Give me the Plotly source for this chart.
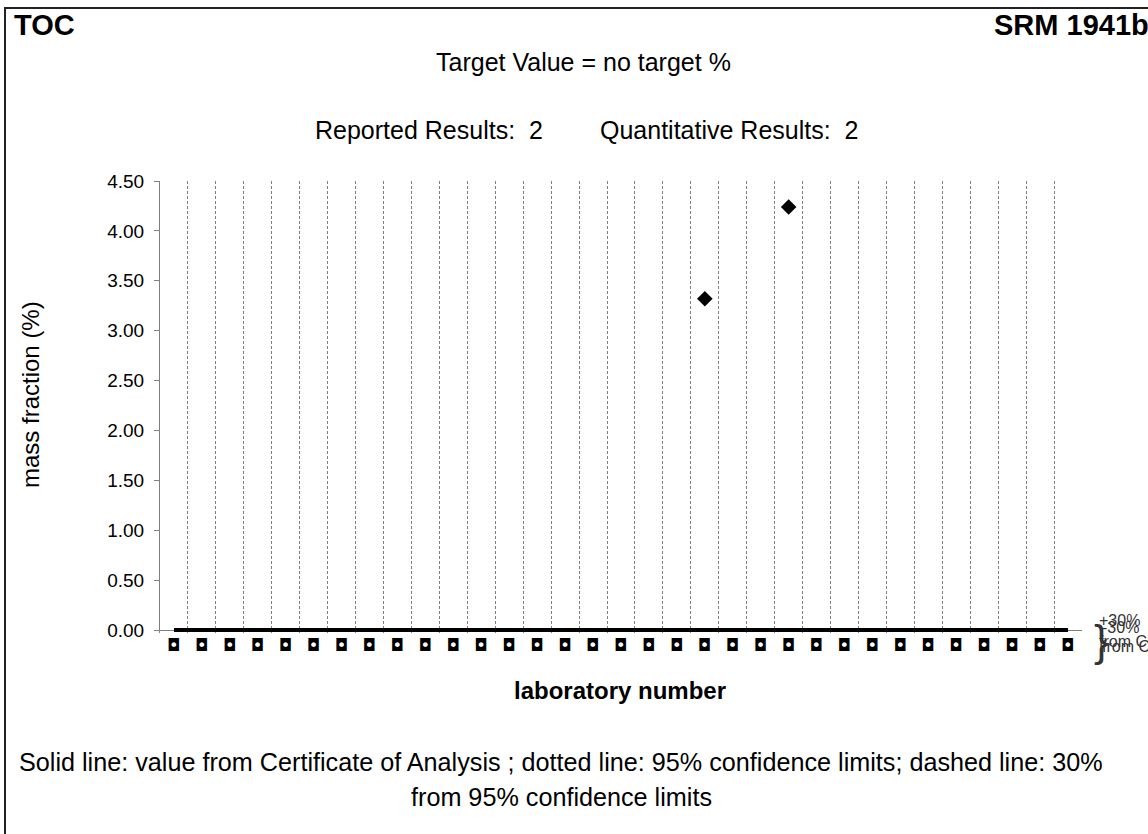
import plotly.graph_objects as go

# ---------------- data ----------------
lab_positions = list(range(1, 34))
lab_labels = ["◘"] * 33          # laboratory numbers render as box glyphs in the source
toc_values = [None, None, None, None, None, None, None, None, None, None,
              None, None, None, None, None, None, None, None, None, 3.32,
              None, None, 4.24, None, None, None, None, None, None, None,
              None, None, None]
certificate_value = 0.0
cert_x = [1, 33]
cert_y = [certificate_value, certificate_value]
y_ticks = [0.0, 0.5, 1.0, 1.5, 2.0, 2.5, 3.0, 3.5, 4.0, 4.5]

FONT = "Liberation Sans, Arial, sans-serif"

# layout geometry (pixels)
W, H = 1148, 834
L, R, T, B = 160, 66, 181, 201
PW, PH = W - L - R, H - T - B


def px(x):
    return (x - L) / PW


def py(y):
    return (H - B - y) / PH


fig = go.Figure()

# certificate value line (solid)
fig.add_trace(go.Scatter(
    x=cert_x, y=cert_y, mode="lines",
    line=dict(color="black", width=4),
    hoverinfo="skip", showlegend=False))

# reported results
fig.add_trace(go.Scatter(
    x=lab_positions, y=toc_values, mode="markers",
    marker=dict(symbol="diamond", size=12, color="black"),
    showlegend=False))

fig.update_xaxes(
    range=[0.5, 33.5],
    tickmode="array", tickvals=lab_positions, ticktext=lab_labels,
    tickfont=dict(family="DejaVu Sans", size=17, color="black"),
    ticks="", showgrid=False, zeroline=False, showline=False,
    minor=dict(tick0=0.5, dtick=1, showgrid=True, gridcolor="#808080",
               griddash="3px,2px", gridwidth=1),
    layer="below traces",
)
fig.update_yaxes(
    range=[-0.03, 4.5],
    tickmode="array", tickvals=y_ticks, tickformat=".2f",
    tickfont=dict(family=FONT, size=19, color="black"),
    ticks="outside", ticklen=5, tickcolor="#808080", ticklabelstandoff=6,
    showline=True, linecolor="#808080", linewidth=1,
    showgrid=False, zeroline=True, zerolinecolor="#808080", zerolinewidth=1,
    layer="below traces",
)

ann = []
ann.append(dict(text="<b>TOC</b>", x=px(12), y=py(25), xanchor="left", yanchor="middle",
                font=dict(family=FONT, size=29, color="black")))
ann.append(dict(text="<b>SRM 1941b</b>", x=px(992), y=py(25), xanchor="left", yanchor="middle",
                font=dict(family=FONT, size=29, color="black")))
ann.append(dict(text="Target Value = no target %", x=px(583), y=py(62),
                xanchor="center", yanchor="middle",
                font=dict(family=FONT, size=25, color="black")))
ann.append(dict(text="Reported Results:\u00a0 2", x=px(313), y=py(130),
                xanchor="left", yanchor="middle",
                font=dict(family=FONT, size=25, color="black")))
ann.append(dict(text="Quantitative Results:\u00a0 2", x=px(598), y=py(130),
                xanchor="left", yanchor="middle",
                font=dict(family=FONT, size=25, color="black")))
ann.append(dict(text="mass fraction (%)", x=px(30), y=py(395), textangle=-90,
                xanchor="center", yanchor="middle",
                font=dict(family=FONT, size=24, color="black")))
ann.append(dict(text="<b>laboratory number</b>", x=px(620), y=py(690),
                xanchor="center", yanchor="middle",
                font=dict(family=FONT, size=24, color="black")))
ann.append(dict(text="Solid line: value from Certificate of Analysis ; dotted line: 95% confidence limits; dashed line: 30%",
                x=px(561), y=py(762), xanchor="center", yanchor="middle",
                font=dict(family=FONT, size=25.2, color="black")))
ann.append(dict(text="from 95% confidence limits",
                x=px(561), y=py(797), xanchor="center", yanchor="middle",
                font=dict(family=FONT, size=25.2, color="black")))
# overlapping series labels at the right end
ann.append(dict(text="+30%", x=px(1097), y=py(620), xanchor="left", yanchor="middle",
                font=dict(family=FONT, size=16, color="#333333")))
ann.append(dict(text="-30%", x=px(1100), y=py(627), xanchor="left", yanchor="middle",
                font=dict(family=FONT, size=16, color="#333333")))
ann.append(dict(text="from CI", x=px(1097), y=py(641), xanchor="left", yanchor="middle",
                font=dict(family=FONT, size=16, color="#333333")))
ann.append(dict(text="from CI", x=px(1100), y=py(646), xanchor="left", yanchor="middle",
                font=dict(family=FONT, size=16, color="#333333")))
ann.append(dict(text="}", x=px(1092), y=py(640), xanchor="left", yanchor="middle",
                font=dict(family=FONT, size=44, color="#333333")))
for a in ann:
    a.update(xref="paper", yref="paper", showarrow=False)

fig.update_layout(
    width=W, height=H,
    margin=dict(l=L, r=R, t=T, b=B, autoexpand=False),
    paper_bgcolor="white", plot_bgcolor="white",
    showlegend=False,
    annotations=ann,
    shapes=[dict(type="rect", xref="paper", yref="paper",
                 x0=px(5), x1=px(1160), y0=py(845), y1=py(8),
                 line=dict(color="#222222", width=2), fillcolor="rgba(0,0,0,0)")],
)

fig.write_html(
    "out.html",
    config={"displayModeBar": False},
    post_script="document.body.style.margin='0px';document.body.style.overflow='hidden';",
)
